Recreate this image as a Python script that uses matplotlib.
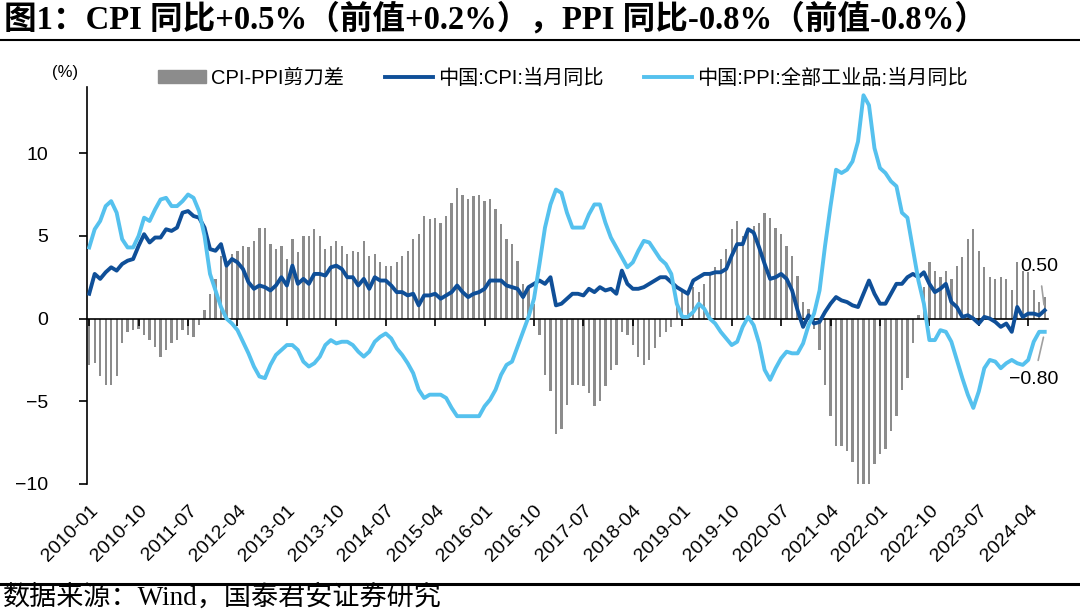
import matplotlib
matplotlib.use("Agg")
import matplotlib.pyplot as plt
from matplotlib.lines import Line2D
from matplotlib.patches import Patch
import numpy as np
import pandas as pd

plt.rcParams['font.family'] = ['Liberation Sans', 'Noto Sans CJK SC']
plt.rcParams['axes.unicode_minus'] = True

# monthly data, 2010-01 .. 2024-07
start_month = '2010-01'
cpi = [1.5, 2.7, 2.4, 2.8, 3.1, 2.9, 3.3, 3.5, 3.6, 4.4, 5.1, 4.6,
       4.9, 4.9, 5.4, 5.3, 5.5, 6.4, 6.5, 6.2, 6.1, 5.5, 4.2, 4.1,
       4.5, 3.2, 3.6, 3.4, 3.0, 2.2, 1.8, 2.0, 1.9, 1.7, 2.0, 2.5,
       2.0, 3.2, 2.1, 2.4, 2.1, 2.7, 2.7, 2.6, 3.1, 3.2, 3.0, 2.5,
       2.5, 2.0, 2.4, 1.8, 2.5, 2.3, 2.3, 2.0, 1.6, 1.6, 1.4, 1.5,
       0.8, 1.4, 1.4, 1.5, 1.2, 1.4, 1.6, 2.0, 1.6, 1.3, 1.5, 1.6,
       1.8, 2.3, 2.3, 2.3, 2.0, 1.9, 1.8, 1.3, 1.9, 2.1, 2.3, 2.1,
       2.5, 0.8, 0.9, 1.2, 1.5, 1.5, 1.4, 1.8, 1.6, 1.9, 1.7, 1.8,
       1.5, 2.9, 2.1, 1.8, 1.8, 1.9, 2.1, 2.3, 2.5, 2.5, 2.2, 1.9,
       1.7, 1.5, 2.3, 2.5, 2.7, 2.7, 2.8, 2.8, 3.0, 3.8, 4.5, 4.5,
       5.4, 5.2, 4.3, 3.3, 2.4, 2.5, 2.7, 2.4, 1.7, 0.5, -0.5, 0.2,
       -0.3, -0.2, 0.4, 0.9, 1.3, 1.1, 1.0, 0.8, 0.7, 1.5, 2.3, 1.5,
       0.9, 0.9, 1.5, 2.1, 2.1, 2.5, 2.7, 2.5, 2.8, 2.1, 1.6, 1.8,
       2.1, 1.0, 0.7, 0.1, 0.2, 0.0, -0.3, 0.1, 0.0, -0.2, -0.5, -0.3,
       -0.8, 0.7, 0.1, 0.3, 0.3, 0.2, 0.5]
ppi = [4.3, 5.4, 5.9, 6.8, 7.1, 6.4, 4.8, 4.3, 4.3, 5.0, 6.1, 5.9,
       6.6, 7.2, 7.3, 6.8, 6.8, 7.1, 7.5, 7.3, 6.5, 5.0, 2.7, 1.7,
       0.7, 0.0, -0.3, -0.7, -1.4, -2.1, -2.9, -3.5, -3.6, -2.8, -2.2, -1.9,
       -1.6, -1.6, -1.9, -2.6, -2.9, -2.7, -2.3, -1.6, -1.3, -1.5, -1.4, -1.4,
       -1.6, -2.0, -2.3, -2.0, -1.4, -1.1, -0.9, -1.2, -1.8, -2.2, -2.7, -3.3,
       -4.3, -4.8, -4.6, -4.6, -4.6, -4.8, -5.4, -5.9, -5.9, -5.9, -5.9, -5.9,
       -5.3, -4.9, -4.3, -3.4, -2.8, -2.6, -1.7, -0.8, 0.1, 1.2, 3.3, 5.5,
       6.9, 7.8, 7.6, 6.4, 5.5, 5.5, 5.5, 6.3, 6.9, 6.9, 5.8, 4.9,
       4.3, 3.7, 3.1, 3.4, 4.1, 4.7, 4.6, 4.1, 3.6, 3.3, 2.7, 0.9,
       0.1, 0.1, 0.4, 0.9, 0.6, 0.0, -0.3, -0.8, -1.2, -1.6, -1.4, -0.5,
       0.1, -0.4, -1.5, -3.1, -3.7, -3.0, -2.4, -2.0, -2.1, -2.1, -1.5, -0.4,
       0.3, 1.7, 4.4, 6.8, 9.0, 8.8, 9.0, 9.5, 10.7, 13.5, 12.9, 10.3,
       9.1, 8.8, 8.3, 8.0, 6.4, 6.1, 4.2, 2.3, 0.9, -1.3, -1.3, -0.7,
       -0.8, -1.4, -2.5, -3.6, -4.6, -5.4, -4.4, -3.0, -2.5, -2.6, -3.0, -2.7,
       -2.5, -2.7, -2.8, -2.5, -1.4, -0.8, -0.8]

labels = ['CPI-PPI剪刀差', '中国:CPI:当月同比', '中国:PPI:全部工业品:当月同比']
title = '图1：CPI 同比+0.5%（前值+0.2%），PPI 同比-0.8%（前值-0.8%）'
source = '数据来源：Wind，国泰君安证券研究'

cpi = np.array(cpi)
ppi = np.array(ppi)
spread = cpi - ppi
months = pd.date_range(start_month, periods=len(cpi), freq='MS')
x = np.arange(len(cpi))

bar_color = '#8c8c8c'
cpi_color = '#0f4f98'
ppi_color = '#55c1ee'

fig = plt.figure(figsize=(10.8, 6.13), dpi=100)
ax = fig.add_axes([87/1080, 1 - 484/613, (1048 - 87)/1080, (484 - 87)/613])

ax.bar(x, spread, width=0.42, color=bar_color, zorder=1)
ax.plot(x, cpi, color=cpi_color, lw=2.8, zorder=3, solid_joinstyle='round')
ax.plot(x, ppi, color=ppi_color, lw=2.8, zorder=3, solid_joinstyle='round')

ymin, ymax = -10, 14
ax.set_ylim(ymin, ymax)
ax.set_xlim(-0.4, len(x) - 0.4)
ax.set_yticks([-10, -5, 0, 5, 10])
ax.tick_params(axis='y', labelsize=14, length=6, width=1.2, pad=22)
for s in ['top', 'right', 'bottom']:
    ax.spines[s].set_visible(False)
ax.spines['left'].set_linewidth(1.2)

tick_pos = x[::9]
ax.set_xticks(tick_pos)
ax.set_xticklabels(months[::9].strftime('%Y-%m'), rotation=45, ha='right',
                   va='top', rotation_mode='anchor', fontsize=14)
ax.tick_params(axis='x', length=0, pad=13)

# zero axis with ticks
sec = ax.secondary_xaxis((0 - ymin) / (ymax - ymin))
sec.set_xticks(tick_pos)
sec.set_xticklabels([])
sec.tick_params(direction='out', length=5, width=1.2)
for s in sec.spines.values():
    s.set_linewidth(1.2)
sec.set_zorder(2.5)

# end labels
ax.annotate('0.50', xy=(x[-1], cpi[-1]), xytext=(x[-1] - 1, 3.15),
            fontsize=14, ha='center', va='center',
            arrowprops=dict(arrowstyle='-', color='#a0a0a0', lw=1.2,
                            shrinkA=6, shrinkB=4))
ax.annotate('\u22120.80', xy=(x[-1], ppi[-1]), xytext=(x[-1] - 2, -3.7),
            fontsize=14, ha='center', va='center',
            arrowprops=dict(arrowstyle='-', color='#a0a0a0', lw=1.2,
                            shrinkA=6, shrinkB=4))

fig.text(65/1080, 1 - 72/613, '(%)', fontsize=12, ha='center', va='center')

handles = [Patch(color=bar_color),
           Line2D([], [], color=cpi_color, lw=2.8),
           Line2D([], [], color=ppi_color, lw=2.8)]
fig.legend(handles, labels, loc='center left', ncol=3, frameon=False,
           bbox_to_anchor=(158/1080, 1 - 78/613), fontsize=14.5,
           handlelength=2.4, handleheight=0.55, handletextpad=0.25,
           columnspacing=2.0, borderaxespad=0, borderpad=0)

fig.text(4/1080, 1 - 19/613, title, fontsize=23.5, fontweight='bold',
         family=['Liberation Serif', 'Noto Sans CJK SC'], ha='left', va='center')
fig.add_artist(Line2D([0, 1], [1 - 40/613] * 2, color='black', lw=1.5))
fig.add_artist(Line2D([0, 1], [1 - 584/613] * 2, color='black', lw=2.2))
fig.text(3/1080, 1 - 598/613, source, fontsize=19.5,
         family=['Liberation Serif', 'Noto Sans CJK SC'], ha='left', va='center')

fig.savefig('out.png', dpi=100)
